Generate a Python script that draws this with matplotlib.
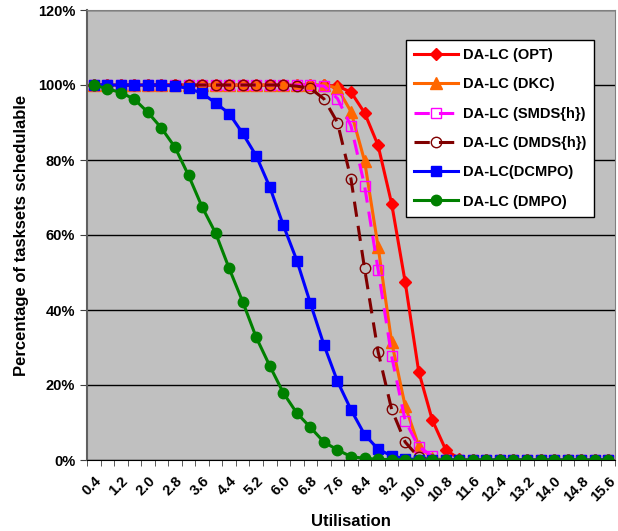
import numpy as np
import matplotlib
matplotlib.use('Agg')
import matplotlib.pyplot as plt
from matplotlib.ticker import FixedLocator, FuncFormatter

plt.rcParams['font.family'] = 'Liberation Sans'
plt.rcParams['font.weight'] = 'bold'

# utilisation levels (categories)
utilisation = [round(0.4 + 0.4 * k, 1) for k in range(39)]

opt = [100] * 17 + [99.9, 99.7, 98.1, 92.6, 83.9, 68.4, 47.5, 23.6, 10.7, 2.7, 0.3] + [0] * 11
dkc = [100] * 18 + [99.2, 92.9, 79.8, 56.9, 31.5, 14.4, 3.8, 0.5] + [0] * 13
smds = [100] * 17 + [99.7, 96.4, 89.1, 73.2, 50.8, 27.7, 10.5, 3.5, 1.1] + [0] * 13
dmds = [100] * 15 + [99.7, 99.1, 96.3, 90.0, 74.9, 51.1, 28.9, 13.5, 4.8, 0.7] + [0] * 14
dcmpo = [100] * 6 + [99.7, 99.1, 97.8, 95.2, 92.4, 87.1, 81.1, 72.8, 62.6, 53.2, 41.8,
                     30.7, 21.0, 13.4, 6.8, 2.9, 1.1, 0.35, 0.1] + [0] * 14
dmpo = [100, 99.0, 98.0, 96.2, 92.7, 88.5, 83.4, 75.9, 67.5, 60.5, 51.1, 42.2, 32.7, 25.1,
        17.9, 12.5, 8.7, 4.8, 2.7, 0.9, 0.45, 0.2, 0.1] + [0] * 16

series = [
    ('DA-LC (OPT)', opt, dict(color='#FF0000', marker='D', ms=6.5, ls='-')),
    ('DA-LC (DKC)', dkc, dict(color='#FF6600', marker='^', ms=8.5, ls='-')),
    ('DA-LC (SMDS{h})', smds, dict(color='#FF00FF', marker='s', ms=7.5, ls=(0, (5, 3)),
                                   mfc='none', mew=1.0)),
    ('DA-LC (DMDS{h})', dmds, dict(color='#800000', marker='o', ms=7.5, ls=(0, (5, 3)),
                                   mfc='none', mew=1.0)),
    ('DA-LC(DCMPO)', dcmpo, dict(color='#0000FF', marker='s', ms=7.5, ls='-')),
    ('DA-LC (DMPO)', dmpo, dict(color='#008000', marker='o', ms=7.5, ls='-')),
]

fig = plt.figure(figsize=(6.18, 5.31), dpi=100)
ax = fig.add_axes([87 / 618, 1 - 460 / 531, 528 / 618, 450 / 531])
ax.set_facecolor('#C0C0C0')

idx = np.arange(len(utilisation))
for name, vals, style in series:
    ax.plot(idx, vals, lw=2.2, label=name, **style)

ax.set_xlim(-0.5, len(utilisation) - 0.5)
ax.set_ylim(0, 120)
ax.set_yticks(np.arange(0, 121, 20))
ax.yaxis.set_major_formatter(FuncFormatter(lambda v, p: '%d%%' % v))
ax.grid(axis='y', color='black', lw=1.0)
ax.set_axisbelow(True)

ax.set_xticks(idx[::2])
ax.set_xticklabels(['%.1f' % u for u in utilisation[::2]], rotation=45,
                   ha='right', rotation_mode='anchor')
ax.xaxis.set_minor_locator(FixedLocator(np.arange(-0.5, len(utilisation), 1)))
ax.tick_params(axis='x', which='major', length=0, pad=10, labelsize=10.5)
ax.tick_params(axis='x', which='minor', length=4, direction='out', color='#404040')
ax.tick_params(axis='y', length=5, direction='out', labelsize=10.5, color='#404040')

for side in ['top', 'right']:
    ax.spines[side].set_color('#808080')
ax.spines['left'].set_color('#606060')
ax.spines['left'].set_linewidth(1.5)
ax.spines['bottom'].set_color('black')

ax.set_xlabel('Utilisation', fontsize=12, fontweight='bold', labelpad=7)
ax.set_ylabel('Percentage of tasksets schedulable', fontsize=12, fontweight='bold', labelpad=6)

leg = ax.legend(loc='upper left', bbox_to_anchor=((406 - 87) / 528, (460 - 40) / 450),
                borderaxespad=0, fontsize=10.5, handlelength=3.0, labelspacing=1.05,
                borderpad=0.55, handletextpad=0.35, fancybox=False, framealpha=1,
                edgecolor='black')
leg.get_frame().set_linewidth(1.0)

fig.savefig('out.png', dpi=100)
